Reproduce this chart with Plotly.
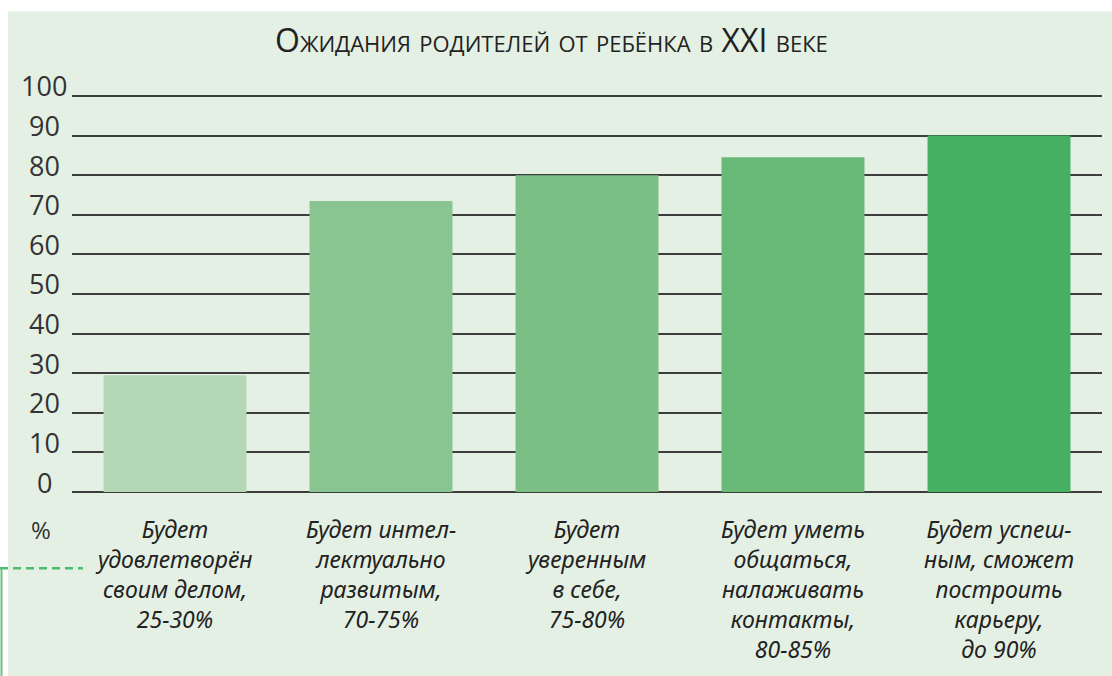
import plotly.graph_objects as go

title_text = "Ожидания родителей от ребёнка в XXI веке"
categories = [
    "Будет<br>удовлетворён<br>своим делом,<br>25-30%",
    "Будет интел-<br>лектуально<br>развитым,<br>70-75%",
    "Будет<br>уверенным<br>в себе,<br>75-80%",
    "Будет уметь<br>общаться,<br>налаживать<br>контакты,<br>80-85%",
    "Будет успеш-<br>ным, сможет<br>построить<br>карьеру,<br>до 90%",
]
values = [29.5, 73.5, 80, 84.5, 90]
bar_colors = ["#b4d8b6", "#89c591", "#7bbf84", "#69b977", "#45b061"]
y_ticks = [0, 10, 20, 30, 40, 50, 60, 70, 80, 90, 100]
unit_label = "%"

W, H = 1112, 676
Y_TOP = 101
L, R = 72, 10
B = 183.5
T = 95.7 - (Y_TOP - 100) * 3.968
pw = W - L - R
ph = H - T - B

def px_x(px):
    return (px - L) / pw

def px_y(py):
    return (H - B - py) / ph

fig = go.Figure(go.Bar(
    x=list(range(len(categories))),
    y=values,
    marker=dict(color=bar_colors, line=dict(width=0)),
    hoverinfo="skip",
))

annotations = []
for v in y_ticks:
    annotations.append(dict(
        x=px_x(44), xref="paper", y=v, yref="y",
        text=str(v), showarrow=False, xanchor="center", yanchor="middle",
        yshift=10,
        font=dict(family="Open Sans", size=27, color="#333333"),
    ))
annotations.append(dict(
    x=px_x(41), xref="paper", y=px_y(530), yref="paper",
    text=unit_label, showarrow=False, xanchor="center", yanchor="middle",
    font=dict(family="Open Sans", size=24, color="#333333"),
))
annotations.append(dict(
    x=px_x(551), xref="paper", y=px_y(39), yref="paper",
    text=title_text, showarrow=False, xanchor="center", yanchor="middle",
    font=dict(family="Open Sans", size=32, color="#222222", variant="small-caps"),
))

shapes = [
    dict(type="rect", xref="paper", yref="paper", layer="below",
         x0=px_x(8), x1=px_x(W + 5), y0=px_y(H + 5), y1=px_y(11),
         fillcolor="#e4f0e4", line=dict(width=0)),
    dict(type="line", xref="paper", yref="paper",
         x0=px_x(0), x1=px_x(83), y0=px_y(569), y1=px_y(569),
         line=dict(color="#4cbb6a", width=2.5, dash="8px,5px")),
    dict(type="line", xref="paper", yref="paper",
         x0=px_x(1.5), x1=px_x(1.5), y0=px_y(569), y1=px_y(H + 5),
         line=dict(color="#66c27f", width=2)),
]

fig.update_layout(
    width=W, height=H,
    margin=dict(l=L, r=R, t=T, b=B, pad=0),
    paper_bgcolor="#ffffff",
    plot_bgcolor="rgba(0,0,0,0)",
    showlegend=False,
    bargap=0.306,
    annotations=annotations,
    shapes=shapes,
    xaxis=dict(
        tickmode="array",
        tickvals=list(range(len(categories))),
        ticktext=categories,
        range=[-0.5, len(categories) - 0.5],
        showgrid=False, zeroline=False, showline=False,
        ticks="", ticklabelstandoff=22,
        tickfont=dict(family="Noto Sans", size=23, color="#222222", style="italic"),
        fixedrange=True,
    ),
    yaxis=dict(
        range=[0, Y_TOP],
        tickvals=y_ticks,
        showticklabels=False,
        showgrid=True, gridcolor="#3d3d3d", gridwidth=2,
        zeroline=True, zerolinecolor="#3d3d3d", zerolinewidth=2,
        showline=False, ticks="",
        fixedrange=True,
    ),
)

fig.write_html(
    "out.html",
    config={"displayModeBar": False},
    post_script="document.body.style.margin='0';document.body.style.overflow='hidden';",
)
